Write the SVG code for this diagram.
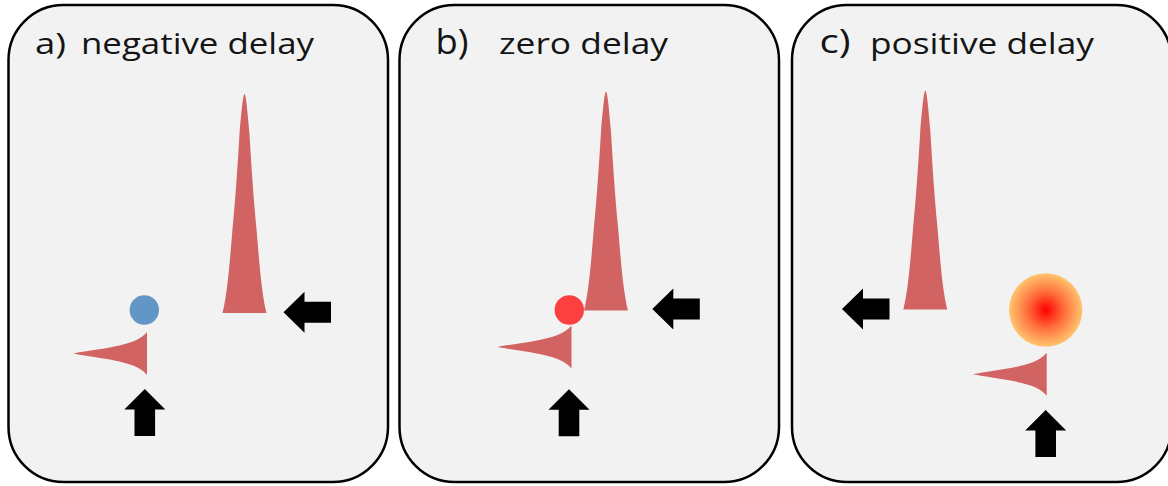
<svg xmlns="http://www.w3.org/2000/svg" xmlns:xlink="http://www.w3.org/1999/xlink" width="1168" height="486" viewBox="0 0 1168 486">
  <style>
    .panel { fill: #f2f2f2; stroke: #000; stroke-width: 2.5; }
    .title { font-family: "Open Sans", "Noto Sans", "DejaVu Sans", sans-serif; font-size: 29px; fill: #151515; }
    .label { font-family: "Open Sans", "Noto Sans", "DejaVu Sans", sans-serif; fill: #151515; }
    .pulse { fill: #d26363; }
    .arrow { fill: #000; }
  </style>
  <defs>
    <!-- tall, short pulse: peak at origin, base 219 below, 44 wide -->
    <path id="spike" d="M0,0 C1.5,0 3.5,22 5,40 C7,75 9.5,110 12,135 C14.5,165 17,200 22,219 L-22,219 C-17,200 -14.5,165 -12,135 C-9.5,110 -7,75 -5,40 C-3.5,22 -1.5,0 0,0 Z"/>
    <!-- long, weak pulse lying on its side: tail tip at origin, flat edge at x=74 -->
    <path id="weak" d="M0,0 C15,-3 45,-6 60,-12 C68,-15 72,-19 74,-21.5 L74,21.5 C72,19 68,15 60,12 C45,6 15,3 0,0 Z"/>
    <!-- block arrows, tip at origin -->
    <path id="arrowLeft" d="M0,0 L21,-20.5 L21,-10.5 L47.5,-10.5 L47.5,10.5 L21,10.5 L21,20.5 Z"/>
    <path id="arrowUp" d="M0,0 L20.5,20.5 L10.3,20.5 L10.3,47 L-10.3,47 L-10.3,20.5 L-20.5,20.5 Z"/>
    <radialGradient id="hot" cx="0.5" cy="0.5" r="0.5">
      <stop offset="0" stop-color="#ff0000"/>
      <stop offset="0.5" stop-color="#ff6e3c"/>
      <stop offset="1" stop-color="#ffc46e"/>
    </radialGradient>
  </defs>

  <!-- a) negative delay -->
  <g id="panel-a">
    <rect class="panel" x="8.5" y="5" width="379.5" height="477" rx="55" ry="55"/>
    <text class="title" x="35" y="53.5" textLength="31" lengthAdjust="spacingAndGlyphs">a)</text>
    <text class="title" x="81" y="53.5" textLength="233" lengthAdjust="spacingAndGlyphs">negative delay</text>
    <use href="#spike" class="pulse" x="244.5" y="94"/>
    <circle id="sample-a" cx="144.3" cy="310" r="14.7" fill="#6196c6"/>
    <use href="#weak" class="pulse" x="73" y="353.5"/>
    <use href="#arrowLeft" class="arrow" x="283.5" y="312.3"/>
    <use href="#arrowUp" class="arrow" x="144.8" y="389"/>
  </g>

  <!-- b) zero delay -->
  <g id="panel-b">
    <rect class="panel" x="399.5" y="5" width="379.5" height="477" rx="55" ry="55"/>
    <text class="label" x="435.5" y="53.5" font-size="34" textLength="33" lengthAdjust="spacingAndGlyphs">b)</text>
    <text class="title" x="499" y="53.5" textLength="169" lengthAdjust="spacingAndGlyphs">zero delay</text>
    <use href="#spike" class="pulse" x="606" y="91.5"/>
    <circle id="sample-b" cx="569.3" cy="310" r="14.7" fill="#fc4040"/>
    <use href="#weak" class="pulse" x="497.5" y="347"/>
    <use href="#arrowLeft" class="arrow" x="652.3" y="309"/>
    <use href="#arrowUp" class="arrow" x="569" y="389.3"/>
  </g>

  <!-- c) positive delay -->
  <g id="panel-c">
    <rect class="panel" x="792" y="5" width="379.5" height="477" rx="55" ry="55"/>
    <text class="label" x="819.5" y="52.5" font-size="33" textLength="31" lengthAdjust="spacingAndGlyphs">c)</text>
    <text class="title" x="870" y="53.5" textLength="224" lengthAdjust="spacingAndGlyphs">positive delay</text>
    <use href="#spike" class="pulse" x="925.3" y="90.5"/>
    <circle id="sample-c" cx="1045.7" cy="310" r="36.7" fill="url(#hot)"/>
    <use href="#weak" class="pulse" x="972.7" y="374.3"/>
    <use href="#arrowLeft" class="arrow" x="842" y="309"/>
    <use href="#arrowUp" class="arrow" x="1045.7" y="410"/>
  </g>
</svg>
